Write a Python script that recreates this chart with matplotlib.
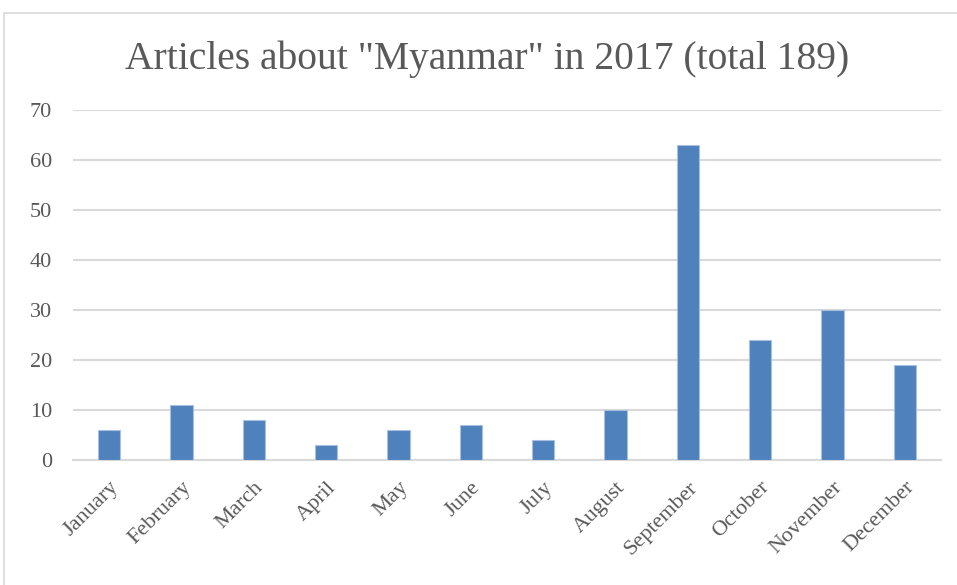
import matplotlib.pyplot as plt
from matplotlib.patches import Rectangle

# monthly article counts
months = ["January", "February", "March", "April", "May", "June",
          "July", "August", "September", "October", "November", "December"]
articles = [6, 11, 8, 3, 6, 7, 4, 10, 63, 24, 30, 19]
y_ticks = [0, 10, 20, 30, 40, 50, 60, 70]
title = 'Articles about "Myanmar" in 2017 (total 189)'

text_color = "#595959"
grid_color = "#d9d9d9"
bar_color = "#4f81bd"

plt.rcParams["font.family"] = ["Liberation Serif", "DejaVu Serif"]

fig = plt.figure(figsize=(9.57, 5.85), dpi=100)
ax = fig.add_axes([0.0763, 0.2137, 0.907, 0.598])

x = range(len(months))
ax.bar(x, articles, width=0.31, color=bar_color, edgecolor="#a9c1e0",
       linewidth=0.8, zorder=3)

ax.set_xlim(-0.5, len(months) - 0.5)
ax.set_ylim(0, 70)
ax.set_yticks(y_ticks)
ax.set_yticklabels([str(v) for v in y_ticks], fontsize=16, color=text_color)
ax.set_xticks(list(x))
ax.set_xticklabels(months, rotation=45, ha="right", rotation_mode="anchor",
                   fontsize=16, color=text_color)
ax.tick_params(axis="both", length=0)
ax.tick_params(axis="y", pad=15)
ax.tick_params(axis="x", pad=13)

ax.grid(axis="y", color=grid_color, linewidth=1.5, zorder=0)
for side in ["top", "right", "left"]:
    ax.spines[side].set_visible(False)
ax.spines["bottom"].set_color(grid_color)
ax.spines["bottom"].set_linewidth(1.5)

fig.text(0.509, 0.898, title, ha="center", va="center", fontsize=28.5,
         color=text_color)

# light chart frame
fig.patches.append(Rectangle((4 / 957, -0.01), 1.0, 1 - 13 / 585 + 0.01,
                             transform=fig.transFigure, fill=False,
                             edgecolor=grid_color, linewidth=1.2))

fig.savefig("out.png", dpi=100)
